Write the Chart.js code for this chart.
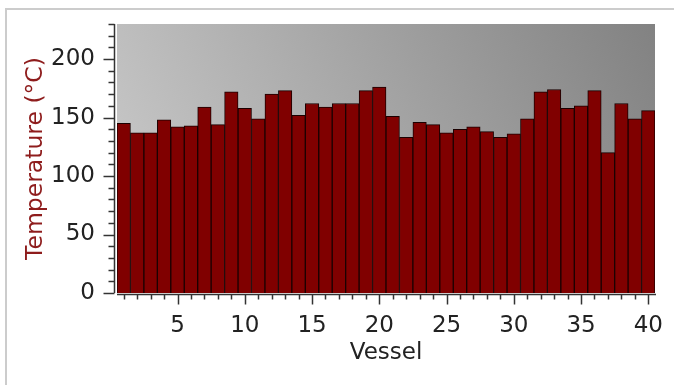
<!DOCTYPE html>
<html>
<head>
<meta charset="utf-8">
<script src="https://cdn.jsdelivr.net/npm/chart.js@4"></script>
<style>
html,body{margin:0;padding:0;background:#fff;}
#wrap{position:absolute;left:0;top:0;width:674px;height:385px;}
</style>
</head>
<body>
<div id="wrap"><canvas id="c" width="674" height="385"></canvas></div>
<script>
const vessels = Array.from({length:40}, (_, i) => String(i + 1));
const temperatures = [145,137,137,148,142,143,159,144,172,158,
                      149,170,173,152,162,159,162,162,173,176,
                      151,133,146,144,137,140,142,138,133,136,
                      149,172,174,158,160,173,120,162,149,156];
const yMin = 0, yMax = 230, yMajorStep = 50, yMinorStep = 10;
const xMajorEvery = 5;

const decor = {
  id: 'decor',
  beforeDraw(chart) {
    const ctx = chart.ctx, a = chart.chartArea;
    ctx.save();
    ctx.strokeStyle = '#cccccc';
    ctx.lineWidth = 2;
    ctx.beginPath();
    ctx.moveTo(674, 9); ctx.lineTo(6, 9); ctx.lineTo(6, 385);
    ctx.stroke();
    const g = ctx.createLinearGradient(a.left, a.bottom, a.right, a.top);
    g.addColorStop(0, '#cdcdcd');
    g.addColorStop(1, '#828282');
    ctx.fillStyle = g;
    ctx.fillRect(a.left, a.top, a.right - a.left, a.bottom - a.top);
    ctx.restore();
  },
  afterDraw(chart) {
    const ctx = chart.ctx, a = chart.chartArea;
    const ys = chart.scales.y, xs = chart.scales.x;
    ctx.save();
    ctx.strokeStyle = '#333';
    ctx.lineWidth = 1.5;
    const axX = a.left - 2.5;
    const axY = a.bottom + 1.5;
    ctx.beginPath();
    ctx.moveTo(axX, ys.getPixelForValue(yMax));
    ctx.lineTo(axX, ys.getPixelForValue(yMin));
    ctx.stroke();
    for (let v = yMin; v <= yMax; v += yMinorStep) {
      const p = Math.round(ys.getPixelForValue(v)) + 0.5;
      const len = (v % yMajorStep === 0) ? 11 : 6;
      ctx.beginPath();
      ctx.moveTo(axX, p); ctx.lineTo(axX - len, p);
      ctx.stroke();
    }
    ctx.beginPath();
    ctx.moveTo(a.left, axY); ctx.lineTo(a.right + 1, axY);
    ctx.stroke();
    vessels.forEach((lab, i) => {
      const p = Math.round(xs.getPixelForValue(i)) + 0.5;
      const len = ((i + 1) % xMajorEvery === 0) ? 10 : 5;
      ctx.beginPath();
      ctx.moveTo(p, axY); ctx.lineTo(p, axY + len);
      ctx.stroke();
    });
    ctx.restore();
  }
};

new Chart(document.getElementById('c'), {
  type: 'bar',
  data: {
    labels: vessels,
    datasets: [{
      data: temperatures,
      backgroundColor: '#800000',
      borderColor: '#1a0000',
      borderWidth: 1,
      barPercentage: 1,
      categoryPercentage: 1
    }]
  },
  options: {
    responsive: false,
    animation: false,
    layout: { padding: { left: 20, top: 24, right: 19, bottom: 10 } },
    plugins: { legend: { display: false }, tooltip: { enabled: false } },
    scales: {
      x: {
        grid: { display: false, drawTicks: true, tickLength: 19 },
        border: { display: false },
        ticks: {
          autoSkip: false, maxRotation: 0, minRotation: 0,
          padding: 0,
          color: '#222',
          font: { family: 'DejaVu Sans', size: 23 },
          callback: function(v, i) { return ((i + 1) % xMajorEvery === 0) ? vessels[i] : ''; }
        },
        title: {
          display: true, text: 'Vessel', color: '#222',
          font: { family: 'DejaVu Sans', size: 23 },
          padding: { top: 0, bottom: 8 }
        },
        afterFit: s => { s.height = 82; }
      },
      y: {
        min: yMin, max: yMax,
        grid: { display: false, drawTicks: true, tickLength: 22 },
        border: { display: false },
        ticks: {
          stepSize: yMajorStep, includeBounds: false,
          padding: 0,
          color: '#222',
          font: { family: 'DejaVu Sans', size: 23 }
        },
        title: {
          display: true, text: 'Temperature (°C)', color: '#8e1c1c',
          font: { family: 'DejaVu Sans', size: 23.5 },
          padding: { top: 2, bottom: 0 }
        },
        afterFit: s => { s.width = 97; }
      }
    }
  },
  plugins: [decor]
});
</script>
</body>
</html>
